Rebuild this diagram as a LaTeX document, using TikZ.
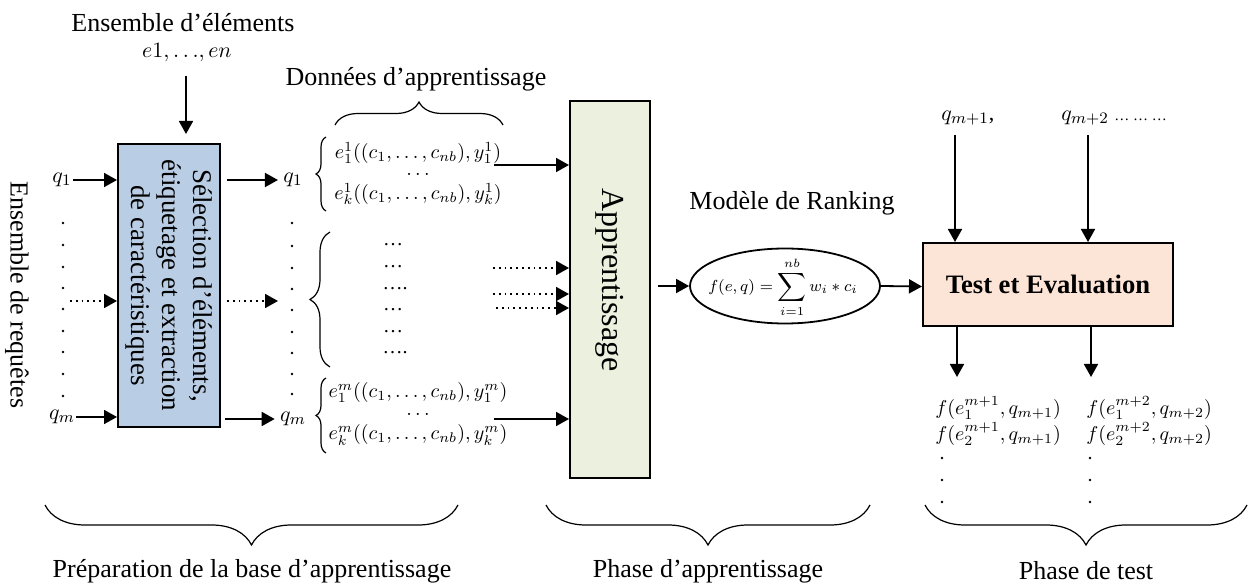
\documentclass[tikz,border=0pt]{standalone}
\usepackage{fontspec}
\setmainfont{Liberation Serif}
\usetikzlibrary{arrows.meta,decorations.pathreplacing,shapes.geometric}
\definecolor{selblue}{HTML}{B9CDE5}
\definecolor{appgreen}{HTML}{EBF1DE}
\definecolor{testpeach}{HTML}{FCE4D6}
\tikzset{
  txt/.style={font=\fontsize{13}{15}\selectfont, inner sep=1pt},
  mth/.style={font=\fontsize{11}{12}\selectfont, inner sep=0.5pt},
  ent/.style={font=\fontsize{10}{11}\selectfont, inner sep=0pt},
  res/.style={font=\fontsize{10.3}{11}\selectfont, inner sep=0pt, anchor=west},
  arr/.style={-{Triangle[length=6.5pt,width=7pt]}, line width=0.9pt},
  darr/.style={-{Triangle[length=6.5pt,width=7pt]}, line width=0.9pt, dotted},
  brc/.style={decorate, line width=0.6pt},
  boxstyle/.style={draw, line width=1pt, inner sep=0pt},
  dotmark/.style={circle, fill, inner sep=0pt, minimum size=1.3pt}
}
\begin{document}
\begin{tikzpicture}[x=0.5pt,y=-0.5pt]
\useasboundingbox (0,0) rectangle (1249,588);

% ---- Left part ----
\node[txt] (ens) at (183,23) {Ensemble d’éléments};
\node[mth, font=\fontsize{10.5}{11}\selectfont] (elist) at (187,53) {$e1,{\ldots},en$};
\node[boxstyle, fill=selblue, minimum width=51pt, minimum height=141.5pt] (sel) at (169,285.5) {};
\node[rotate=-90, align=center, font=\fontsize{13.5}{15.5}\selectfont] (seltxt) at (sel.center)
  {Sélection d’éléments,\\étiquetage et extraction\\de caractéristiques};
\coordinate (eTop) at (186,76);
\draw[arr] (eTop) -- ([yshift=4.5pt]sel.north -| eTop);

\node[txt, rotate=-90] (req) at (17,295) {Ensemble de requêtes};
\node[mth] (q1) at (62,180) {$q_1$};
\node[mth] (qm) at (62,417) {$q_m$};
\draw[arr] (q1.east) -- (q1.east -| sel.west);
\draw[arr] (qm.east) -- (qm.east -| sel.west);
\coordinate (dl) at (70,301);
\draw[darr] (dl) -- (dl -| sel.west);
\foreach \yy in {223,245,267,288,309,331,352,374,396}
  \node[dotmark] at (63,\yy) {};

\node[mth] (q1r) at (293,180) {$q_1$};
\node[mth] (qmr) at (293,419) {$q_m$};
\draw[arr] ([xshift=3pt]sel.east |- q1r) -- ([xshift=-2pt]q1r.west);
\draw[arr] ([xshift=2pt]sel.east |- qmr) -- ([xshift=-2pt]qmr.west);
\coordinate (dr) at (227,301);
\coordinate (drEnd) at (278,301);
\draw[darr] (dr) -- (drEnd);
\foreach \yy in {223,246,268,289,310,332,353,374,394}
  \node[dotmark] at (292,\yy) {};

% ---- Training data ----
\node[txt] (don) at (416,79) {Données d’apprentissage};
\draw[brc, decoration={brace, amplitude=11.5pt}] (335,125) -- (503,125);

\draw[brc, decoration={brace, amplitude=5pt}] (326,211) -- (326,137);
\node[ent] (a1) at (418,153) {$e_1^1((c_1,\ldots,c_{nb}),y_1^1)$};
\node[ent] (a2) at (418,174) {$\ldots$};
\node[ent] (a3) at (418,194) {$e_k^1((c_1,\ldots,c_{nb}),y_k^1)$};

\draw[brc, decoration={brace, amplitude=10pt}] (330,367) -- (330,232);
\node[ent] (b1) at (393,245) {…};
\node[ent] (b2) at (393,267) {…};
\node[ent] (b3) at (395,289) {….};
\node[ent] (b4) at (393,310) {…};
\node[ent] (b5) at (393,332) {…};
\node[ent] (b6) at (395,353) {….};

\draw[brc, decoration={brace, amplitude=5pt}] (326,453) -- (326,378);
\node[ent] (c1) at (418,393) {$e_1^m((c_1,\ldots,c_{nb}),y_1^m)$};
\node[ent] (c2) at (418,414) {$\ldots$};
\node[ent] (c3) at (418,435) {$e_k^m((c_1,\ldots,c_{nb}),y_k^m)$};

% ---- Apprentissage ----
\node[boxstyle, fill=appgreen, minimum width=40pt, minimum height=188.5pt] (app) at (610,289.5) {};
\node[rotate=-90, font=\fontsize{16}{19}\selectfont] (apptxt) at (610,280) {Apprentissage};

\coordinate (s1) at (494,165);
\draw[arr] (s1) -- (s1 -| app.west);
\coordinate (d1) at (493,268);
\draw[darr] (d1) -- (d1 -| app.west);
\coordinate (d2) at (493,294);
\draw[darr] (d2) -- (d2 -| app.west);
\coordinate (d3) at (496,308);
\draw[darr] (d3) -- (d3 -| app.west);
\coordinate (s2) at (494,419);
\draw[arr] (s2) -- (s2 -| app.west);

% ---- Ranking model ----
\node[txt] (mod) at (792,203) {Modèle de Ranking};
\node[ellipse, draw, line width=0.9pt, minimum width=95pt, minimum height=37.5pt, inner sep=0pt] (ell) at (785,286) {};
\node[font=\fontsize{8.5}{9}\selectfont, inner sep=0pt] (formula) at (783,287)
  {$f(e,q)=\displaystyle\sum_{i=1}^{nb} w_i * c_i$};
\draw[arr] ([xshift=3.5pt]app.east |- ell.west) -- (ell.west);

% ---- Test ----
\node[boxstyle, fill=testpeach, minimum width=125pt, minimum height=41.5pt,
      font=\bfseries\fontsize{13.3}{15}\selectfont] (test) at (1048,284.5) {Test et Evaluation};
\draw[arr] (ell.east) -- ([yshift=-1pt]test.west);

\node[mth, anchor=west] (qa) at (940,118) {$q_{m+1}$,};
\node[mth, anchor=west] (qb) at (1060,118) {$q_{m+2}$ {\fontsize{7.5}{8}\selectfont … … …}};
\coordinate (ta) at (955,135);
\coordinate (tb) at (1088,135);
\draw[arr] (ta) -- (ta |- test.north);
\draw[arr] (tb) -- (tb |- test.north);

\coordinate (ba) at (957,377);
\coordinate (bb) at (1091,377);
\draw[arr] (test.south -| ba) -- (ba);
\draw[arr] (test.south -| bb) -- (bb);

\node[res] (r1) at (935,408) {$f(e_1^{m+1},q_{m+1})$};
\node[res] (r2) at (935,434) {$f(e_2^{m+1},q_{m+1})$};
\node[res] (r3) at (1086,408) {$f(e_1^{m+2},q_{m+2})$};
\node[res] (r4) at (1086,434) {$f(e_2^{m+2},q_{m+2})$};
\foreach \yy in {458,480,502} {
  \node[dotmark] at (942,\yy) {};
  \node[dotmark] at (1090,\yy) {};
}

% ---- Phase braces ----
\draw[brc, decoration={brace, amplitude=20pt}] (458,505) -- (45,505);
\draw[brc, decoration={brace, amplitude=20pt}] (870,505) -- (546,505);
\draw[brc, decoration={brace, amplitude=20pt}] (1247,505) -- (925,505);
\node[txt] (p1) at (252,571) {Préparation de la base d’apprentissage};
\node[txt] (p2) at (708,571) {Phase d’apprentissage};
\node[txt] (p3) at (1086,571) {Phase de test};
\end{tikzpicture}
\end{document}
